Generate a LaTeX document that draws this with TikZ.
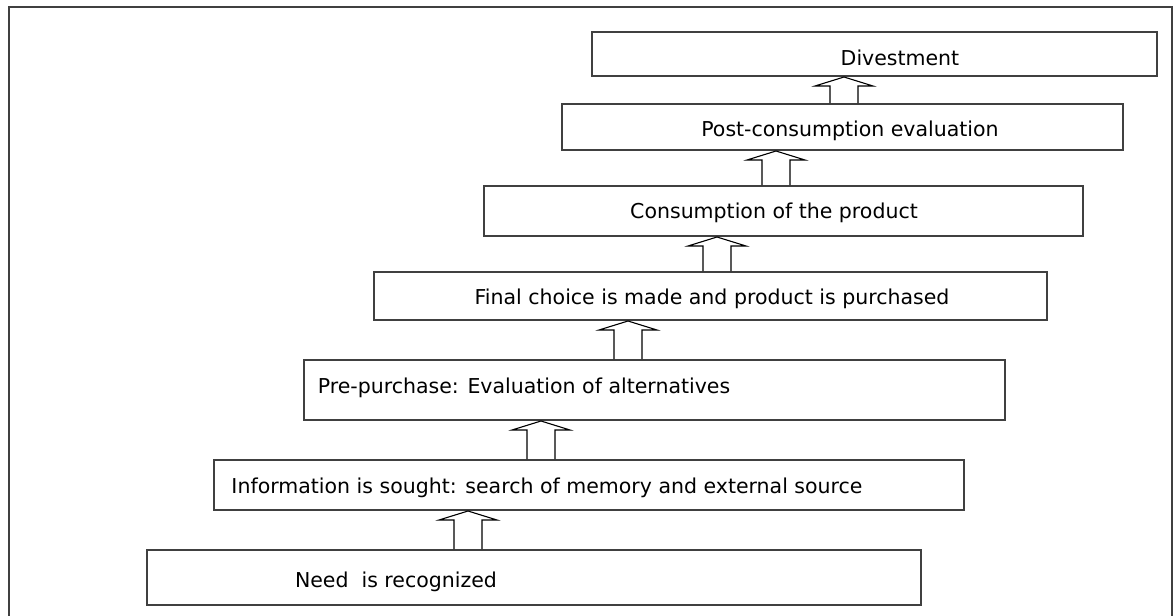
\documentclass[tikz,border=0pt]{standalone}
\usepackage{fontspec}
\setmainfont{DejaVu Sans}
\usepackage{tikz}
\usetikzlibrary{calc}
\definecolor{Frame}{RGB}{64,64,64}
\tikzset{stage/.style={draw=Frame,line width=2pt,rectangle,inner sep=0pt},
  stagetext/.style={anchor=base,inner sep=0pt,font=\fontsize{20.5}{24}\selectfont},
  hollowarrow/.style={draw=black,line width=1.1pt,line join=miter}}
\newcommand{\stepup}[3]{%
  \draw[hollowarrow] let \p1=(#1.north), \p2=(#2.south) in
    (#3pt-14pt,\y1) -- (#3pt-14pt,\y2-9pt) -- (#3pt-29pt,\y2-9pt) -- (#3pt,\y2)
    -- (#3pt+29pt,\y2-9pt) -- (#3pt+14pt,\y2-9pt) -- (#3pt+14pt,\y1);}

\begin{document}
\begin{tikzpicture}[x=1pt,y=-1pt]
  \useasboundingbox[fill=white] (0,0) rectangle (1176,616);
  \draw[Frame,line width=2pt] (9,630) -- (9,7) -- (1172,7) -- (1172,630);
  \node[stage,minimum width=565,minimum height=44] (divest) at (874.5,54) {};
  \node[stage,minimum width=561,minimum height=46] (post) at (842.5,127) {};
  \node[stage,minimum width=599,minimum height=50] (consume) at (783.5,211) {};
  \node[stage,minimum width=673,minimum height=48] (purchase) at (710.5,296) {};
  \node[stage,minimum width=701,minimum height=60] (evaluate) at (654.5,390) {};
  \node[stage,minimum width=750,minimum height=50] (search) at (589,485) {};
  \node[stage,minimum width=774,minimum height=55] (need) at (534,577.5) {};
  \node[stagetext] at (900,65) {Divestment};
  \node[stagetext] at (850,136) {Post-consumption evaluation};
  \node[stagetext] at (774,218) {Consumption of the product};
  \node[stagetext] at (712,304) {Final choice is made and product is purchased};
  \node[stagetext] at (524,393) {Pre-purchase: Evaluation of alternatives};
  \node[stagetext] at (547,493) {Information is sought: search of memory and external source};
  \node[stagetext] at (396,587) {Need\ \ is recognized};
  \stepup{need}{search}{468}
  \stepup{search}{evaluate}{541}
  \stepup{evaluate}{purchase}{628}
  \stepup{purchase}{consume}{717}
  \stepup{consume}{post}{776}
  \stepup{post}{divest}{844}
\end{tikzpicture}
\end{document}
